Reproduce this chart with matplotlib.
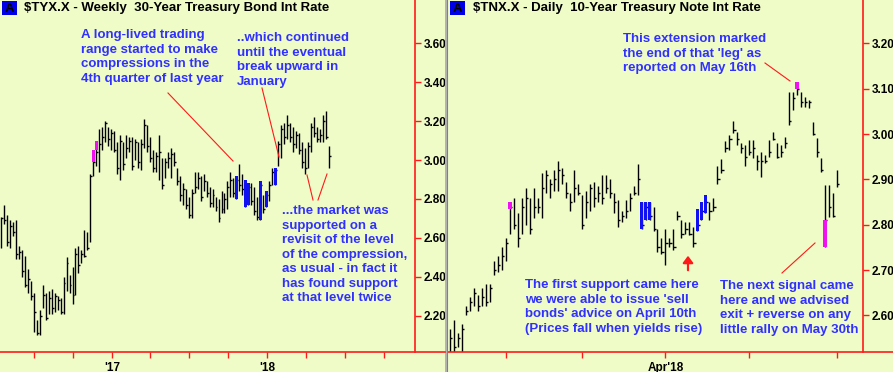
import matplotlib
matplotlib.use("Agg")
import matplotlib.pyplot as plt
import matplotlib.dates as mdates
from matplotlib.lines import Line2D
from matplotlib.patches import Rectangle, FancyArrowPatch
from matplotlib.ticker import FuncFormatter
import numpy as np
import pandas as pd

W, H = 893, 372
BG = '#EFFCC8'
TXT = '#3030ff'
RED = '#ff1a1a'
BLUE = '#1010f0'
PINK = '#f010f0'
plt.rcParams['font.family'] = ['Liberation Sans', 'DejaVu Sans']

# --- weekly $TYX.X (30-year) ---
wk_start = '2016-04-15'
wk_high = [2.71, 2.77, 2.72, 2.69, 2.68, 2.69, 2.56, 2.54, 2.51, 2.44,
           2.38, 2.32, 2.18, 2.23, 2.36, 2.32, 2.33, 2.34, 2.32, 2.30,
           2.29, 2.40, 2.50, 2.41, 2.45, 2.55, 2.56, 2.54, 2.64, 2.63,
           2.93, 3.05, 3.10, 3.16, 3.17, 3.20, 3.17, 3.16, 3.15, 3.09,
           3.13, 3.09, 3.13, 3.12, 3.12, 3.11, 3.09, 3.11, 3.21, 3.18,
           3.12, 3.05, 3.04, 3.13, 3.01, 3.01, 3.04, 3.06, 3.04, 2.96,
           2.92, 2.88, 2.85, 2.81, 2.85, 2.94, 2.94, 2.92, 2.93, 2.89,
           2.86, 2.85, 2.81, 2.80, 2.84, 2.83, 2.89, 2.94, 2.91, 2.92,
           2.98, 2.93, 2.90, 2.88, 2.88, 2.86, 2.81, 2.89, 2.82, 2.84,
           2.89, 2.96, 2.96, 3.10, 3.18, 3.19, 3.23, 3.19, 3.17, 3.15,
           3.14, 3.09, 3.06, 3.09, 3.19, 3.22, 3.17, 3.16, 3.23, 3.25, 3.07]
wk_low = [2.55, 2.67, 2.56, 2.55, 2.61, 2.49, 2.49, 2.40, 2.35, 2.32,
          2.28, 2.12, 2.10, 2.10, 2.24, 2.18, 2.21, 2.21, 2.22, 2.23,
          2.21, 2.21, 2.33, 2.32, 2.26, 2.31, 2.42, 2.47, 2.50, 2.54,
          2.58, 2.92, 2.97, 2.94, 3.05, 3.09, 3.07, 3.05, 3.04, 2.93,
          2.90, 2.95, 3.01, 3.04, 2.95, 3.00, 2.96, 2.95, 3.06, 3.04,
          2.99, 2.94, 2.94, 2.90, 2.85, 2.91, 2.96, 2.91, 2.97, 2.87,
          2.79, 2.77, 2.75, 2.70, 2.70, 2.83, 2.85, 2.79, 2.84, 2.81,
          2.76, 2.76, 2.74, 2.68, 2.73, 2.73, 2.75, 2.81, 2.81, 2.80,
          2.84, 2.82, 2.76, 2.77, 2.77, 2.72, 2.69, 2.69, 2.73, 2.76,
          2.79, 2.87, 2.87, 2.97, 3.01, 3.08, 3.11, 3.09, 3.04, 3.06,
          3.03, 2.96, 2.93, 2.96, 3.04, 3.12, 3.09, 3.09, 3.09, 3.11, 2.96]
wk_close = [2.70, 2.69, 2.58, 2.66, 2.63, 2.52, 2.53, 2.43, 2.36, 2.39,
            2.30, 2.22, 2.11, 2.20, 2.31, 2.19, 2.29, 2.24, 2.30, 2.28,
            2.22, 2.37, 2.47, 2.36, 2.31, 2.52, 2.46, 2.52, 2.51, 2.55,
            2.92, 2.99, 3.04, 3.08, 3.12, 3.19, 3.11, 3.14, 3.05, 2.96,
            3.10, 2.98, 3.06, 3.10, 2.97, 3.09, 2.99, 3.08, 3.18, 3.07,
            3.01, 2.96, 3.02, 3.04, 2.87, 2.99, 3.01, 3.03, 2.99, 2.89,
            2.82, 2.85, 2.77, 2.72, 2.83, 2.86, 2.91, 2.81, 2.89, 2.83,
            2.78, 2.82, 2.76, 2.70, 2.75, 2.80, 2.86, 2.90, 2.83, 2.90,
            2.87, 2.85, 2.78, 2.86, 2.79, 2.74, 2.71, 2.87, 2.75, 2.82,
            2.87, 2.94, 2.95, 3.08, 3.16, 3.12, 3.18, 3.12, 3.08, 3.13,
            3.05, 2.99, 2.96, 3.07, 3.17, 3.14, 3.11, 3.13, 3.20, 3.12, 3.02]
wk_blue = [79, 82, 83, 87, 89, 92]
wk_pink = [31, 32]
wk_pink_lo = [2.99, 3.05]
wk_pink_hi = [3.05, 3.10]
wk_yticks = [2.20, 2.40, 2.60, 2.80, 3.00, 3.20, 3.40, 3.60]

# --- daily $TNX.X (10-year) ---
dy_first, dy_last = '2018-01-11', '2018-06-01'
dy_holidays = ['2018-01-15', '2018-02-19', '2018-03-30', '2018-05-28']
dy_high = [2.57, 2.59, 2.56, 2.58, 2.62, 2.64, 2.66, 2.645, 2.66, 2.67,
           2.67, 2.72, 2.73, 2.75, 2.77, 2.85, 2.86, 2.825, 2.86, 2.88,
           2.86, 2.88, 2.86, 2.915, 2.92, 2.90, 2.92, 2.94, 2.925, 2.895,
           2.87, 2.92, 2.89, 2.865, 2.875, 2.89, 2.895, 2.885, 2.91, 2.91,
           2.90, 2.87, 2.855, 2.83, 2.855, 2.87, 2.885, 2.935, 2.85, 2.85,
           2.85, 2.84, 2.79, 2.77, 2.79, 2.77, 2.79, 2.83, 2.81, 2.805,
           2.805, 2.795, 2.835, 2.85, 2.865, 2.85, 2.86, 2.93, 2.945, 2.985,
           2.997, 3.03, 3.005, 2.98, 2.976, 2.987, 2.987, 2.954, 2.96, 2.954,
           2.987, 3.004, 2.98, 2.976, 2.993, 3.093, 3.093, 3.115, 3.093, 3.082,
           3.075, 3.026, 2.991, 2.947, 2.887, 2.887, 2.87, 2.92]
dy_low = [2.52, 2.52, 2.53, 2.52, 2.60, 2.61, 2.62, 2.61, 2.62, 2.62,
          2.63, 2.69, 2.695, 2.70, 2.72, 2.78, 2.79, 2.75, 2.78, 2.80,
          2.78, 2.815, 2.825, 2.815, 2.87, 2.86, 2.875, 2.875, 2.89, 2.86,
          2.83, 2.85, 2.865, 2.79, 2.815, 2.83, 2.84, 2.85, 2.845, 2.87,
          2.86, 2.825, 2.795, 2.805, 2.815, 2.83, 2.865, 2.865, 2.79, 2.81,
          2.81, 2.785, 2.74, 2.735, 2.71, 2.75, 2.745, 2.81, 2.77, 2.78,
          2.777, 2.75, 2.785, 2.81, 2.825, 2.81, 2.83, 2.89, 2.915, 2.96,
          2.965, 3.002, 2.976, 2.958, 2.93, 2.954, 2.947, 2.92, 2.905, 2.936,
          2.95, 2.987, 2.947, 2.95, 2.97, 3.02, 3.053, 3.086, 3.06, 3.06,
          3.057, 2.998, 2.95, 2.916, 2.75, 2.817, 2.817, 2.883]
dy_close = [2.55, 2.53, 2.55, 2.57, 2.61, 2.63, 2.65, 2.62, 2.64, 2.63,
            2.66, 2.70, 2.71, 2.73, 2.76, 2.84, 2.80, 2.77, 2.84, 2.86,
            2.79, 2.84, 2.84, 2.88, 2.91, 2.89, 2.90, 2.92, 2.91, 2.87,
            2.85, 2.88, 2.87, 2.80, 2.85, 2.88, 2.86, 2.87, 2.86, 2.88,
            2.87, 2.85, 2.81, 2.82, 2.83, 2.86, 2.87, 2.90, 2.80, 2.84,
            2.82, 2.79, 2.75, 2.74, 2.76, 2.76, 2.75, 2.82, 2.78, 2.79,
            2.78, 2.76, 2.80, 2.83, 2.85, 2.83, 2.84, 2.90, 2.92, 2.97,
            2.99, 3.01, 2.99, 2.97, 2.95, 2.96, 2.97, 2.94, 2.94, 2.94,
            2.96, 2.99, 2.95, 2.96, 2.98, 3.03, 3.08, 3.10, 3.07, 3.07,
            3.07, 3.00, 2.96, 2.92, 2.81, 2.84, 2.82, 2.89]
dy_blue = [48, 49, 50, 62, 63, 64]
dy_pink = [15, 87, 94]
dy_pink_lo = [2.835, 3.10, 2.75]
dy_pink_hi = [2.85, 3.115, 2.81]
dy_yticks = [2.60, 2.70, 2.80, 2.90, 3.00, 3.10, 3.20]


def fx(px):
    return px / W


def fy(py):
    return 1 - py / H


def hbar_chart(ax, x, hi, lo, cl, tick, box_w, blue, pink, pink_lo, pink_hi):
    hi, lo, cl = np.array(hi), np.array(lo), np.array(cl)
    ax.vlines(x, lo, hi, color='black', lw=1.0, zorder=2)
    ax.hlines(cl, x, x + tick, color='black', lw=1.0, zorder=2)
    ax.bar(x[blue], hi[blue] - lo[blue], bottom=lo[blue], width=box_w,
           color=BLUE, zorder=3)
    ax.bar(x[pink], np.array(pink_hi) - np.array(pink_lo), bottom=pink_lo,
           width=box_w, color=PINK, zorder=3)


def style_axis(ax, yticks):
    ax.set_facecolor(BG)
    for s in ['left', 'top', 'bottom']:
        ax.spines[s].set_visible(False)
    ax.spines['right'].set_color(RED)
    ax.spines['right'].set_linewidth(1.2)
    ax.yaxis.tick_right()
    ax.set_yticks(yticks, ['%.2f' % v for v in yticks], fontsize=8.5,
                  fontweight='bold')
    ax.tick_params(axis='y', color=RED, labelcolor='black', length=4,
                   width=1, direction='out', pad=2)
    ax.tick_params(axis='x', color=RED, labelcolor='black', length=4,
                   width=1, direction='out', pad=3, labelsize=8.5)
    for lbl in ax.get_xticklabels():
        lbl.set_fontweight('bold')


fig = plt.figure(figsize=(W / 100, H / 100), dpi=100, facecolor=BG)
axL = fig.add_axes([fx(0), 1 - 352 / H, 415 / W, 352 / H])
axR = fig.add_axes([fx(448), 1 - 352 / H, 415 / W, 352 / H])

# weekly panel
wk_dates = pd.date_range(wk_start, periods=len(wk_high), freq='7D')
xw = mdates.date2num(wk_dates)
hbar_chart(axL, xw, wk_high, wk_low, wk_close, 4.5, 7.5,
           wk_blue, wk_pink, wk_pink_lo, wk_pink_hi)
axL.set_xlim(xw[0] - 2.35, xw[0] + 972.5)
axL.set_ylim(2.015, 3.821)
axL.xaxis.set_major_locator(mdates.MonthLocator(bymonth=[1, 4, 7, 10]))
axL.xaxis.set_major_formatter(FuncFormatter(
    lambda v, p: mdates.num2date(v).strftime("'%y")
    if mdates.num2date(v).month == 1 else ''))
style_axis(axL, wk_yticks)

# daily panel
dy_dates = pd.bdate_range(dy_first, dy_last, freq='C', holidays=dy_holidays)
xd = np.arange(len(dy_dates))
hbar_chart(axR, xd, dy_high, dy_low, dy_close, 0.55, 0.85,
           dy_blue, dy_pink, dy_pink_lo, dy_pink_hi)
axR.set_xlim(-0.5, 103.5)
axR.set_ylim(2.519, 3.296)
month_start = [i for i in range(1, len(dy_dates))
               if dy_dates[i].month != dy_dates[i - 1].month]
axR.set_xticks(month_start, [dy_dates[i].strftime("%b'%y")
                             if dy_dates[i].month == 4 else ''
                             for i in month_start])
style_axis(axR, dy_yticks)

# frame lines
fig.add_artist(Line2D([fx(0), fx(445)], [fy(352), fy(352)], color=RED, lw=1.2))
fig.add_artist(Line2D([fx(448), fx(893)], [fy(352), fy(352)], color=RED, lw=1.2))
fig.add_artist(Rectangle((fx(444.5), 0), 3.5 / W, 1, transform=fig.transFigure,
                         color='#b4b4b4', lw=0))
fig.add_artist(Line2D([fx(446.5), fx(446.5)], [0, 1], color='#808080', lw=0.8))

# titles
for bx, tx, title in [(2, 24, r'\$TYX.X - Weekly  30-Year Treasury Bond Int Rate'),
                      (450, 473, r'\$TNX.X - Daily  10-Year Treasury Note Int Rate')]:
    fig.add_artist(Rectangle((fx(bx), fy(15)), 15 / W, 14 / H,
                             transform=fig.transFigure, color='#0000e6', lw=0))
    fig.text(fx(bx + 7.5), fy(8.5), 'A', ha='center', va='center',
             fontsize=9.5, fontweight='bold', color='black')
    fig.text(fx(tx), fy(8.5), title, ha='left', va='center', fontsize=9.5,
             fontweight='bold', color='black')

notes = [
    (81, 29, 'A long-lived trading\nrange started to make\ncompressions in the\n4th quarter of last year'),
    (237, 32, '..which continued\nuntil the eventual\nbreak upward in\nJanuary'),
    (282, 205, '...the market was\nsupported on a\nrevisit of the level\nof the compression,\nas usual - in fact it\nhas found support\nat that level twice'),
    (623, 33, "This extension marked\nthe end of that 'leg' as\nreported on May 16th"),
    (525, 279, "The first support came here\nwe were able to issue 'sell\nbonds' advice on April 10th\n(Prices fall when yields rise)"),
    (720, 280, 'The next signal came\nhere and we advised\nexit + reverse on any\nlittle rally on May 30th'),
]
for px, py, s in notes:
    fig.text(fx(px), fy(py), s, ha='left', va='top', fontsize=9.5,
             fontweight='bold', color=TXT, linespacing=1.28)

pointers = [((168, 93), (233, 161)), ((262, 88), (279, 157)),
            ((307, 175), (313, 200)), ((318, 200), (327, 174)),
            ((765, 63), (790, 81)), ((782, 273), (815, 243))]
for (x1, y1), (x2, y2) in pointers:
    fig.add_artist(Line2D([fx(x1), fx(x2)], [fy(y1), fy(y2)], color=RED, lw=0.8))

fig.add_artist(FancyArrowPatch(
    (fx(688), fy(273)), (fx(688), fy(253)), transform=fig.transFigure,
    arrowstyle='-|>,head_length=4,head_width=3', color=RED, lw=1.6,
    mutation_scale=1))

fig.savefig('out.png', dpi=100, facecolor=BG)
